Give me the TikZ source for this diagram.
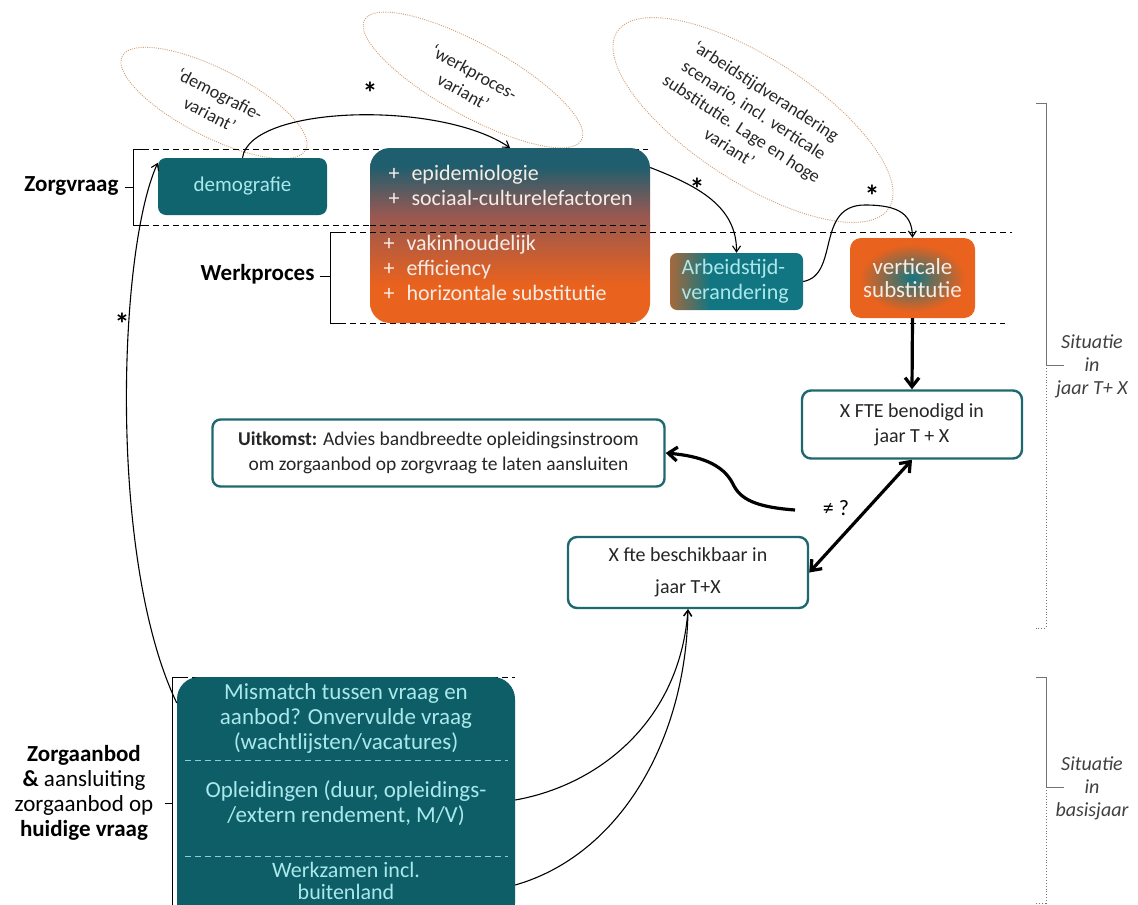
\documentclass[tikz,border=0pt]{standalone}
\usepackage{fontspec}
\setmainfont{Carlito}
\usetikzlibrary{arrows.meta,shapes.geometric}
\definecolor{tealb}{RGB}{15,100,110}
\definecolor{tealc}{RGB}{18,118,130}
\definecolor{tealbot}{RGB}{14,94,104}
\definecolor{tealtop}{RGB}{30,94,110}
\definecolor{orng}{RGB}{233,98,30}
\definecolor{mauve}{RGB}{150,88,82}
\definecolor{brn}{RGB}{165,105,60}
\definecolor{lcyan}{RGB}{170,232,236}
\definecolor{ltext}{RGB}{246,236,230}
\definecolor{bordert}{RGB}{30,105,112}
\definecolor{ellc}{RGB}{212,160,120}
\definecolor{sepblue}{RGB}{140,205,220}
\pgfdeclareverticalshading{bigshade}{100bp}{color(0bp)=(orng); color(25bp)=(orng); color(36bp)=(orng); color(56bp)=(mauve); color(70bp)=(tealtop); color(100bp)=(tealtop)}
\pgfdeclarehorizontalshading{arbshade}{100bp}{color(0bp)=(brn); color(25bp)=(brn); color(40bp)=(tealc); color(100bp)=(tealc)}
\pgfdeclareradialshading{vertshade}{\pgfpoint{0bp}{0bp}}{color(0bp)=(tealc); color(9bp)=(tealc!55!orng); color(21bp)=(orng); color(50bp)=(orng)}
\begin{document}
\begin{tikzpicture}[x=1pt,y=-1pt,
  box/.style={inner sep=0pt, align=center},
  whitebox/.style={box, fill=white, draw=bordert, line width=2.4pt, rounded corners=9pt, text=black!85},
  thinarrow/.style={line width=1.1pt, -{Straight Barb[length=6pt,width=8pt]}},
  thickarrow/.style={line width=3.2pt, -{Straight Barb[length=9pt,width=14pt]}},
  thickboth/.style={line width=3.2pt, {Straight Barb[length=9pt,width=14pt]}-{Straight Barb[length=9pt,width=14pt]}},
  sep/.style={dash pattern=on 6pt off 4pt, line width=0.9pt},
  ell/.style={ellipse, draw=ellc, line width=0.9pt, dash pattern=on 1pt off 1.2pt, inner sep=0pt},
  elltext/.style={font=\fontsize{18}{22.5}\selectfont, align=center, text=black!85},
  lbl/.style={font=\fontsize{23}{25}\selectfont\bfseries},
  star/.style={font=\fontsize{30}{30}\selectfont\bfseries},
  brk/.style={line width=0.9pt},
  sidelabel/.style={font=\fontsize{20}{23}\selectfont\itshape, align=center, text=black!75},
  boxtext/.style={font=\fontsize{22}{25}\selectfont, text=ltext, align=left}
]
\useasboundingbox (0,0) rectangle (1138,905);
\fill[white] (0,0) rectangle (1138,905);
\clip (0,0) rectangle (1138,905);

% ellipses
\node[ell, minimum width=206pt, minimum height=68pt, rotate=-27] (e1) at (214,103) {};
\node[elltext, rotate=-27] (t1) at (215,104) {‘demografie-\\variant’};
\node[ell, minimum width=248pt, minimum height=72pt, rotate=-29] (e2) at (473,80) {};
\node[elltext, rotate=-29] (t2) at (469,82) {‘werkproces-\\variant’};
\node[ell, minimum width=324pt, minimum height=124pt, rotate=-33] (e3) at (753,120) {};
\node[elltext, rotate=-33] (t3) at (748,119) {‘arbeidstijdverandering\\scenario, incl. verticale\\substitutie. Lage en hoge\\variant’};

% dashed separators
\draw[sep] (133,149) -- (648,149);
\draw[sep] (133,225) -- (650,225);
\draw[sep] (330,232) -- (1012,232);
\draw[sep] (330,323) -- (1005,323);
\draw[sep] (172,677) -- (515,677);

% brackets
\draw[brk] (143,149) -- (133,149) -- (133,225) -- (143,225);
\draw[brk] (133,187) -- (125,187);
\node[lbl, anchor=east] (zv) at (122,186) {Zorgvraag};
\draw[brk] (340,232) -- (330,232) -- (330,323) -- (340,323);
\draw[brk] (330,276) -- (320,276);
\node[lbl, anchor=east] (wp) at (318,274) {Werkproces};
\draw[brk] (182,677) -- (172,677) -- (172,910);
\draw[brk] (172,803) -- (165,803);
\node[font=\fontsize{23}{25}\selectfont, align=center] (za) at (84,793) {\textbf{Zorgaanbod}\\\textbf{\&} aansluiting\\zorgaanbod op\\\textbf{huidige vraag}};

\draw[brk, black!55] (1036,103) -- (1046,103) -- (1046,365);
\draw[brk, black!55, dotted] (1046,365) -- (1046,628) -- (1036,628);
\draw[brk, black!55] (1046,365) -- (1064,365);
\node[sidelabel] (s1l) at (1092,366) {Situatie\\in\\jaar T+ X};
\draw[brk, black!55] (1036,677) -- (1046,677) -- (1046,787);
\draw[brk, black!55, dotted] (1046,787) -- (1046,903) -- (1036,903);
\draw[brk, black!55] (1046,787) -- (1064,787);
\node[sidelabel] (s2l) at (1092,788) {Situatie\\in\\basisjaar};

% coloured boxes
\node[box, fill=tealb, rounded corners=8pt, minimum width=169pt, minimum height=57pt, text=lcyan, font=\fontsize{21}{24}\selectfont] (demo) at (242.5,186.5) {demografie};
\node[box, shade, shading=bigshade, rounded corners=20pt, minimum width=280pt, minimum height=175pt] (big) at (510,235.5) {};
\draw[sep] (370,225) -- (650,225);
\draw[sep] (370,232) -- (650,232);
\node[boxtext, anchor=west] (bt1) at (385,185) {\makebox[23pt][l]{+}epidemiologie\\\makebox[23pt][l]{+}sociaal-culturelefactoren};
\node[boxtext, anchor=west] (bt2) at (380,268) {\makebox[23pt][l]{+}vakinhoudelijk\\\makebox[23pt][l]{+}efficiency\\\makebox[23pt][l]{+}horizontale substitutie};
\node[box, shade, shading=arbshade, rounded corners=7pt, minimum width=133pt, minimum height=57pt] (arb) at (736.5,281.5) {};
\node[boxtext, text=lcyan, anchor=west] (arbt) at (678,281) {Arbeidstijd-\\verandering};
\node[box, shade, shading=vertshade, rounded corners=11pt, minimum width=125pt, minimum height=80pt, text=ltext, font=\fontsize{23}{23}\selectfont] (vert) at (912.5,278) {verticale\\substitutie};

% white boxes
\node[whitebox, minimum width=220pt, minimum height=68pt, font=\fontsize{20}{25}\selectfont] (fte) at (912,424.5) {X FTE benodigd in\\jaar T + X};
\node[whitebox, minimum width=452pt, minimum height=67pt, font=\fontsize{19.5}{25}\selectfont, rounded corners=8pt] (uit) at (438.5,453) {\textbf{Uitkomst:} Advies bandbreedte opleidingsinstroom\\om zorgaanbod op zorgvraag te laten aansluiten};
\node[whitebox, minimum width=240pt, minimum height=71pt, font=\fontsize{20}{32}\selectfont] (besch) at (688,572.5) {X fte beschikbaar in\\jaar T+X};

% bottom box
\node[box, fill=tealbot, rounded corners=22pt, minimum width=338pt, minimum height=248pt] (bot) at (346,801) {};
\draw[sep, sepblue] (185,760) -- (508,760);
\draw[sep, sepblue] (185,856) -- (508,856);
\node[font=\fontsize{23}{25}\selectfont, text=lcyan, align=center] (b1) at (346,718) {Mismatch tussen vraag en\\aanbod? Onvervulde vraag\\(wachtlijsten/vacatures)};
\node[font=\fontsize{23}{25}\selectfont, text=lcyan, align=center] (b2) at (346,803) {Opleidingen (duur, opleidings-\\/extern rendement, M/V)};
\node[font=\fontsize{22}{22}\selectfont, text=lcyan, align=center] (b3) at (346,881) {Werkzamen incl.\\buitenland};

% connectors
\draw[thinarrow] (demo.north) .. controls (250,105) and (440,100) .. (big.north);
\draw[thinarrow] ([yshift=68pt]big.east) .. controls (695,185) and (737,205) .. (arb.north);
\draw[thinarrow] (arb.east) .. controls (840,275) and (815,205) .. (865,205) .. controls (900,205) and (912,215) .. (vert.north);
\draw[thickarrow] (vert.south) -- (fte.north);
\draw[thickboth] (fte.south) -- (besch.east);
\coordinate (neqs) at (795,510);
\draw[thickarrow] (neqs) .. controls (755,507) and (740,499) .. (733,484) .. controls (723,464) and (700,456) .. (uit.east);
\node[font=\fontsize{22}{22}\selectfont] (neq) at (836,508) {≠ ?};
\draw[thinarrow] ([yshift=1pt]bot.east) .. controls (600,785) and (680,720) .. (besch.south);
\draw[thinarrow] ([yshift=-84pt]bot.east) .. controls (620,855) and (686,740) .. (besch.south);
\draw[thinarrow] ([yshift=98pt]bot.west) .. controls (108,560) and (118,250) .. ([yshift=-5pt]demo.north west);

% asterisks
\node[star] (a1) at (370,93) {*};
\node[star] (a2) at (697,189) {*};
\node[star] (a3) at (872,196) {*};
\node[star] (a4) at (122,324) {*};
\end{tikzpicture}
\end{document}
